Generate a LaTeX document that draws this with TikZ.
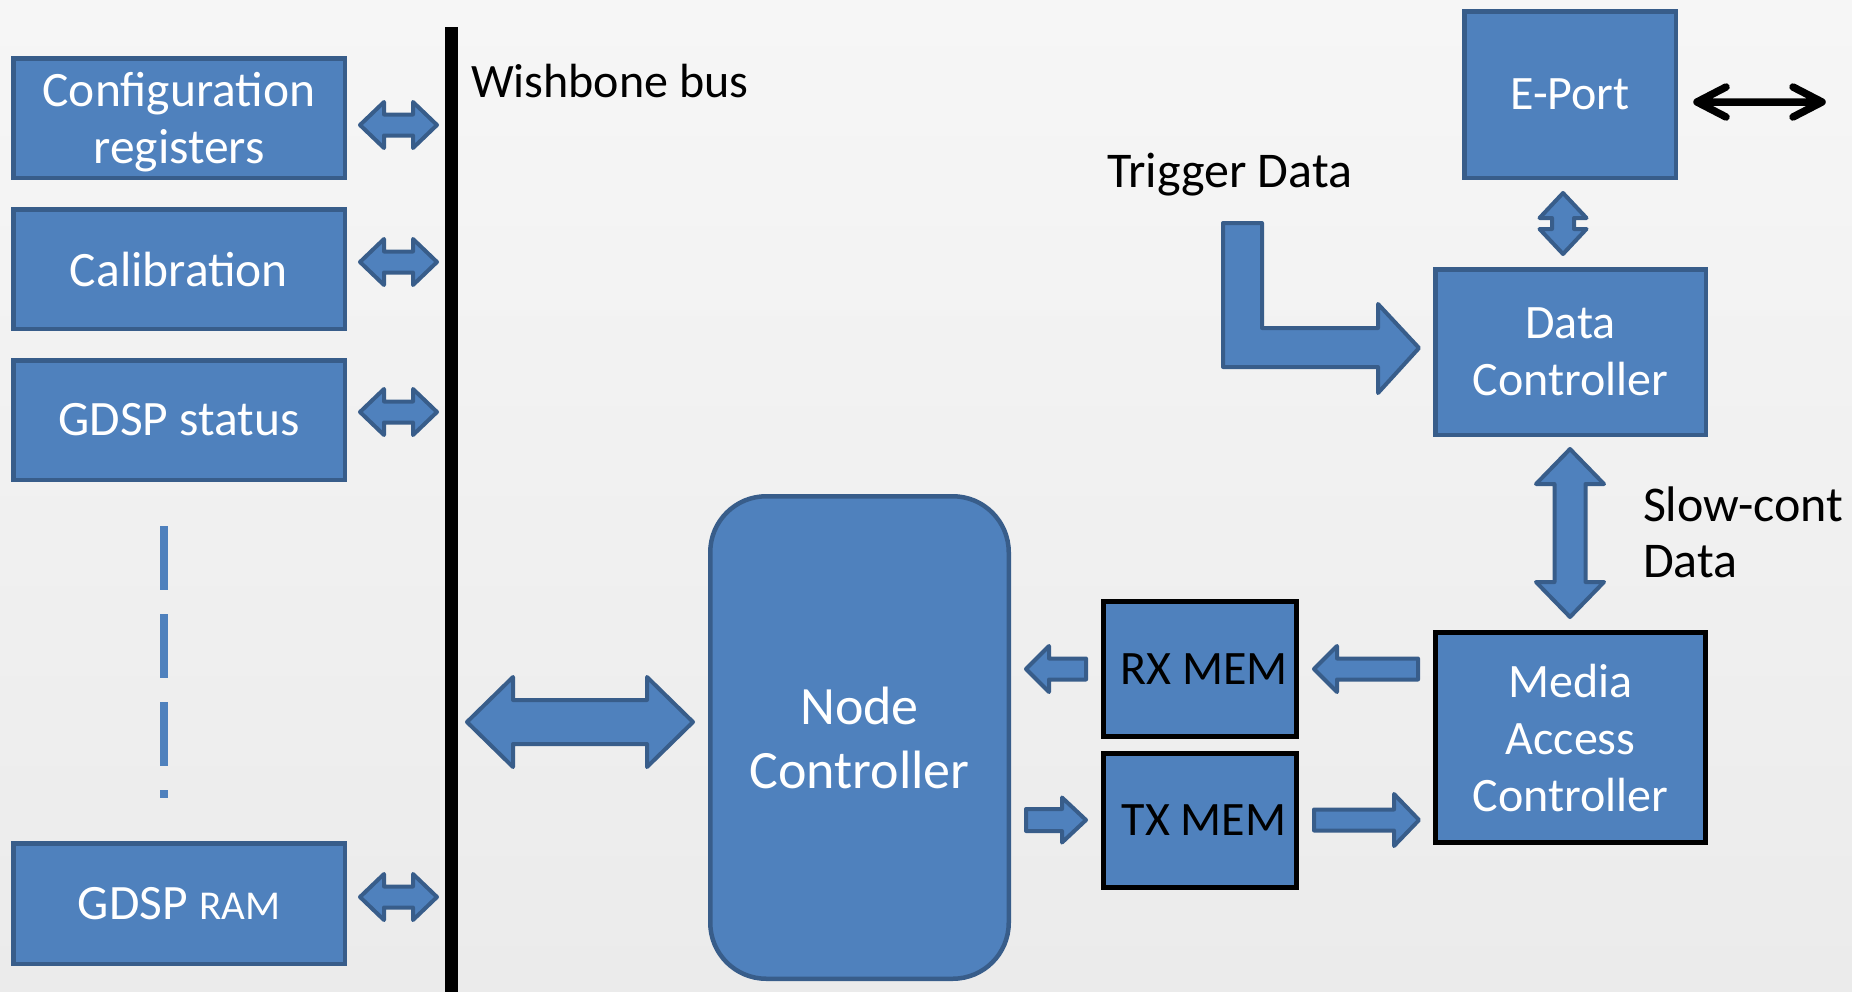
\documentclass[tikz,border=0pt]{standalone}
\usepackage{fontspec}
\setmainfont{Carlito}
\usetikzlibrary{calc}
\definecolor{boxfill}{HTML}{4F81BD}
\definecolor{boxline}{HTML}{385D8A}
\definecolor{bgtop}{HTML}{F6F6F6}
\definecolor{bgbot}{HTML}{EBEBEB}

% block arrows: horizontal double, vertical double, single right, single left
% arguments: {from}{to}{axis position}{shaft half width}{head half width}{head length}
\newcommand\blkHH[6]{\draw[blockarrow] (#1,#3) -- ({#1+#6},{#3-#5}) -- ({#1+#6},{#3-#4}) -- ({#2-#6},{#3-#4}) -- ({#2-#6},{#3-#5}) -- (#2,#3) -- ({#2-#6},{#3+#5}) -- ({#2-#6},{#3+#4}) -- ({#1+#6},{#3+#4}) -- ({#1+#6},{#3+#5}) -- cycle;}
\newcommand\blkVV[6]{\draw[blockarrow] (#3,#1) -- ({#3-#5},{#1+#6}) -- ({#3-#4},{#1+#6}) -- ({#3-#4},{#2-#6}) -- ({#3-#5},{#2-#6}) -- (#3,#2) -- ({#3+#5},{#2-#6}) -- ({#3+#4},{#2-#6}) -- ({#3+#4},{#1+#6}) -- ({#3+#5},{#1+#6}) -- cycle;}
\newcommand\blkR[6]{\draw[blockarrow] (#2,#3) -- ({#2-#6},{#3-#5}) -- ({#2-#6},{#3-#4}) -- (#1,{#3-#4}) -- (#1,{#3+#4}) -- ({#2-#6},{#3+#4}) -- ({#2-#6},{#3+#5}) -- cycle;}
\newcommand\blkL[6]{\draw[blockarrow] (#1,#3) -- ({#1+#6},{#3-#5}) -- ({#1+#6},{#3-#4}) -- (#2,{#3-#4}) -- (#2,{#3+#4}) -- ({#1+#6},{#3+#4}) -- ({#1+#6},{#3+#5}) -- cycle;}

\begin{document}
\begin{tikzpicture}[x=1pt,y=-1pt,
  box/.style={draw=boxline, fill=boxfill, line width=4.5pt, text=white,
    inner sep=0pt, outer sep=0pt, align=center,
    font=\fontsize{48}{57}\selectfont},
  register/.style={box, minimum width=331.5pt, minimum height=119.5pt,
    font=\fontsize{49.5}{57}\selectfont},
  memory/.style={box, draw=black, line width=5pt, text=black},
  plain/.style={text=black, inner sep=0pt, outer sep=0pt,
    font=\fontsize{48}{56}\selectfont},
  blockarrow/.style={draw=boxline, fill=boxfill, line width=4pt, line join=round}]

% canvas
\useasboundingbox (0,0) rectangle (1852,991);
\shade[top color=bgtop, bottom color=bgbot] (0,0) rectangle (1852,991);

% register blocks on the left
\node[register] (cfg) at (179,118) {\rule{0pt}{43pt}Configuration\\registers};
\node[register] (cal) at (179,269) {Calibration};
\node[register] (sts) at (179,420) {GDSP status};
\node[register, minimum height=120.5pt] (ram) at (179,903.5) {GDSP {\fontsize{41}{48}\selectfont RAM}};

% continuation mark between the register blocks
\coordinate (dots top) at (164,526);
\coordinate (dots end) at (164,798);
\draw[boxfill, line width=8pt, dash pattern=on 64pt off 24pt] (dots top) -- (dots end);

% Wishbone bus
\coordinate (bus top) at (451.5,27);
\coordinate (bus end) at (451.5,995);
\draw[black, line width=13pt] (bus top) -- (bus end);
\node[plain, anchor=base west] (busname) at (471,97) {Wishbone bus};

% bus attachments
\blkHH{360}{437}{125}{10.5}{23}{24}
\blkHH{360}{437}{262}{10.5}{23}{24}
\blkHH{360}{437}{412}{10.5}{23}{24}
\blkHH{360}{437}{897}{10.5}{23}{24}
\blkHH{467}{693}{722}{22}{45}{46}

% node controller and memories
\node[box, rounded corners=56pt, minimum width=298.5pt, minimum height=482.5pt,
  font=\fontsize{54}{64}\selectfont] (nc) at (859.5,737.5) {Node\\Controller};
\node[memory, minimum width=193pt, minimum height=135pt] (rx) at (1200,669) {\hspace{8pt}RX MEM};
\node[memory, minimum width=193pt, minimum height=134pt] (tx) at (1200,820.5) {\hspace{8pt}TX MEM};
\node[box, draw=black, line width=5pt, minimum width=270pt, minimum height=210pt] (mac) at (1570.5,737.5) {Media\\Access\\Controller};

\blkL{1026}{1086}{669}{10.5}{23}{23}
\blkL{1314}{1418}{669}{10.5}{23}{23}
\blkR{1026}{1086}{820}{11}{22.5}{24}
\blkR{1314}{1419}{820}{10.5}{26}{25}

% data path
\node[box, minimum width=270.5pt, minimum height=165.5pt] (dc) at (1570.5,352) {Data\\Controller};
\node[box, minimum width=211.5pt, minimum height=166.5pt] (ep) at (1570,94.5) {E-Port};

\blkVV{449}{617}{1570}{15.5}{34}{35}
\blkVV{193}{254}{1563}{11}{23.5}{25}

\node[plain, anchor=west, align=left, font=\fontsize{50}{56}\selectfont] (slow) at (1643,532) {Slow-cont\\Data};

\node[plain, anchor=base west, font=\fontsize{50}{56}\selectfont] (trig) at (1107,187) {Trigger Data};
\draw[blockarrow] (1223,223) -- (1262,223) -- (1262,328) -- (1378,328) -- (1378,304)
  -- (1419,348) -- (1378,393) -- (1378,367) -- (1223,367) -- cycle;

% external link of the E-Port
\coordinate (link a) at (1697,102);
\coordinate (link b) at (1822,102);
\draw[black, line width=7.5pt, line cap=round, line join=round]
  (link a) -- (link b)
  ($(link a)+(29,-15)$) -- (link a) -- ($(link a)+(29,15)$)
  ($(link b)+(-29,-15)$) -- (link b) -- ($(link b)+(-29,15)$);
\end{tikzpicture}
\end{document}
